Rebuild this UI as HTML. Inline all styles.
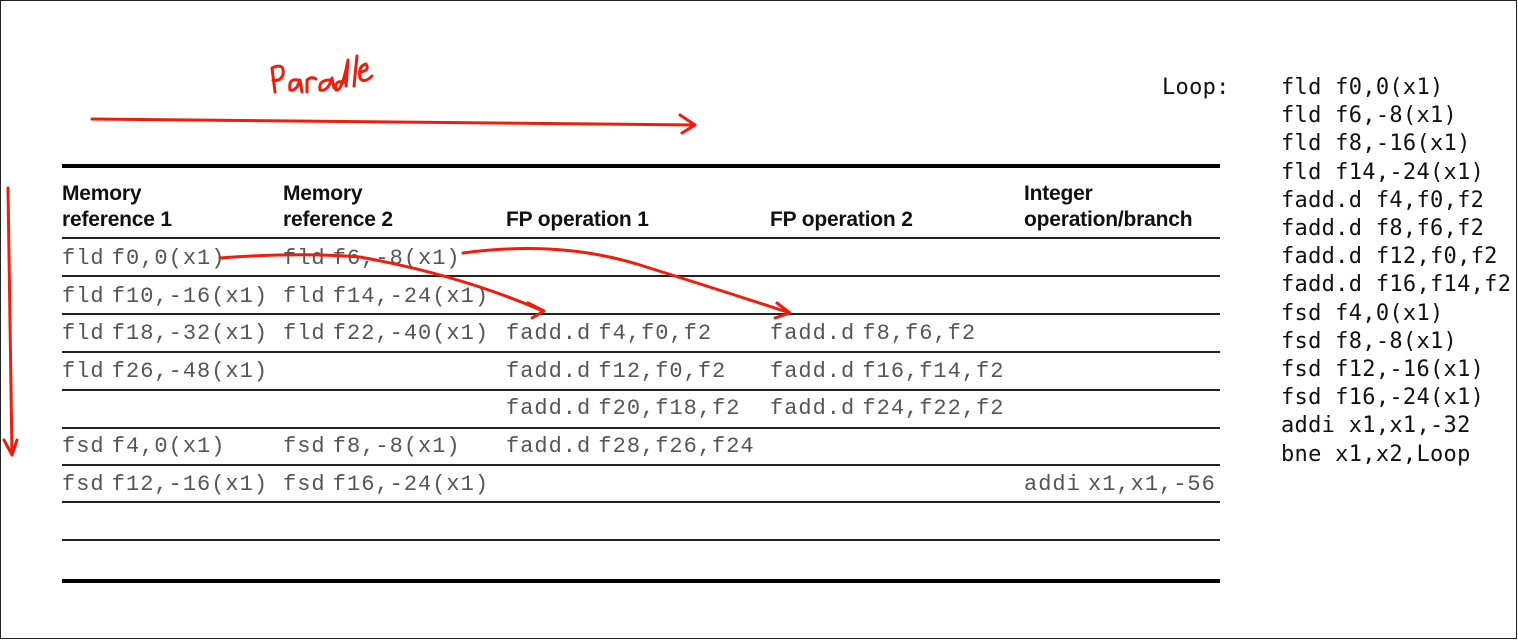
<!DOCTYPE html>
<html><head><meta charset="utf-8"><style>
body{margin:0;width:1518px;height:640px;position:relative;background:#fff;overflow:hidden}
.frame{position:absolute;left:0;top:0;width:1515px;height:637px;border:1.5px solid #222;box-sizing:content-box}
.h{position:absolute;font:bold 21px "Liberation Sans",sans-serif;color:#111;line-height:26px;letter-spacing:-0.2px}
.c{position:absolute;font:22px "Liberation Mono",monospace;color:#555;white-space:pre;word-spacing:-7px;letter-spacing:1px;line-height:24px}
.ln{position:absolute;left:62px;width:1158px;background:#222}
.code{position:absolute;font:22px "DejaVu Sans Mono","Liberation Mono",monospace;color:#111;white-space:pre;line-height:28.2px;letter-spacing:0.3px}
</style></head><body>
<div class="frame"></div>
<div class="ln" style="top:164px;height:4px;background:#000"></div>
<div class="ln" style="top:237px;height:2px"></div>
<div class="ln" style="top:275px;height:2px"></div>
<div class="ln" style="top:313px;height:2px"></div>
<div class="ln" style="top:351px;height:2px"></div>
<div class="ln" style="top:389px;height:2px"></div>
<div class="ln" style="top:427px;height:2px"></div>
<div class="ln" style="top:464px;height:2px"></div>
<div class="ln" style="top:501px;height:2px"></div>
<div class="ln" style="top:539px;height:2px"></div>
<div class="ln" style="top:579px;height:4px;background:#000"></div>

<div class="h" style="left:62px;top:181px">Memory<br>reference 1</div>
<div class="h" style="left:283px;top:181px">Memory<br>reference 2</div>
<div class="h" style="left:506px;top:207px">FP operation 1</div>
<div class="h" style="left:770px;top:207px">FP operation 2</div>
<div class="h" style="left:1024px;top:181px">Integer<br>operation/branch</div>

<div class="c" style="left:62px;top:247px">fld f0,0(x1)</div>
<div class="c" style="left:283px;top:247px">fld f6,-8(x1)</div>
<div class="c" style="left:62px;top:285px">fld f10,-16(x1)</div>
<div class="c" style="left:283px;top:285px">fld f14,-24(x1)</div>
<div class="c" style="left:62px;top:322px">fld f18,-32(x1)</div>
<div class="c" style="left:283px;top:322px">fld f22,-40(x1)</div>
<div class="c" style="left:506px;top:322px">fadd.d f4,f0,f2</div>
<div class="c" style="left:770px;top:322px">fadd.d f8,f6,f2</div>
<div class="c" style="left:62px;top:360px">fld f26,-48(x1)</div>
<div class="c" style="left:506px;top:360px">fadd.d f12,f0,f2</div>
<div class="c" style="left:770px;top:360px">fadd.d f16,f14,f2</div>
<div class="c" style="left:506px;top:397px">fadd.d f20,f18,f2</div>
<div class="c" style="left:770px;top:397px">fadd.d f24,f22,f2</div>
<div class="c" style="left:62px;top:435px">fsd f4,0(x1)</div>
<div class="c" style="left:283px;top:435px">fsd f8,-8(x1)</div>
<div class="c" style="left:506px;top:435px">fadd.d f28,f26,f24</div>
<div class="c" style="left:62px;top:473px">fsd f12,-16(x1)</div>
<div class="c" style="left:283px;top:473px">fsd f16,-24(x1)</div>
<div class="c" style="left:1024px;top:473px">addi x1,x1,-56</div>

<div class="code" style="left:1162px;top:74px">Loop:</div>
<div class="code" style="left:1281px;top:74px">fld f0,0(x1)
fld f6,-8(x1)
fld f8,-16(x1)
fld f14,-24(x1)
fadd.d f4,f0,f2
fadd.d f8,f6,f2
fadd.d f12,f0,f2
fadd.d f16,f14,f2
fsd f4,0(x1)
fsd f8,-8(x1)
fsd f12,-16(x1)
fsd f16,-24(x1)
addi x1,x1,-32
bne x1,x2,Loop</div>

<svg width="1518" height="640" style="position:absolute;left:0;top:0" fill="none" stroke="#f01c0c" stroke-width="3" stroke-linecap="round" stroke-linejoin="round">
<path d="M92 119 Q400 122 695 125"/>
<path d="M680 115 L695 125 L682 133"/>
<path d="M8 188 L12 455"/>
<path d="M4 440 L12 455 L17 440"/>
<path d="M220 258 Q300 252 360 257 Q460 275 543 311"/>
<path d="M528 303 L544 311 L532 318"/>
<path d="M463 253 Q560 240 640 265 Q720 290 790 313"/>
<path d="M777 303 L790 313 L775 318"/>
<path d="M275 92 L272 68 Q285 62 283 75 Q280 82 273 80"/>
<path d="M298 80 Q288 78 290 90 Q296 92 300 80 L302 92"/>
<path d="M307 92 L307 80 Q312 76 316 79"/>
<path d="M330 80 Q318 80 320 90 Q328 92 332 78 L334 88"/>
<path d="M344 82 Q334 80 336 90 Q342 92 348 60 L346 86"/>
<path d="M354 86 L357 56"/>
<path d="M361 72 Q370 70 366 64 Q358 66 360 78 Q364 84 372 76"/>
</svg>
</body></html>
